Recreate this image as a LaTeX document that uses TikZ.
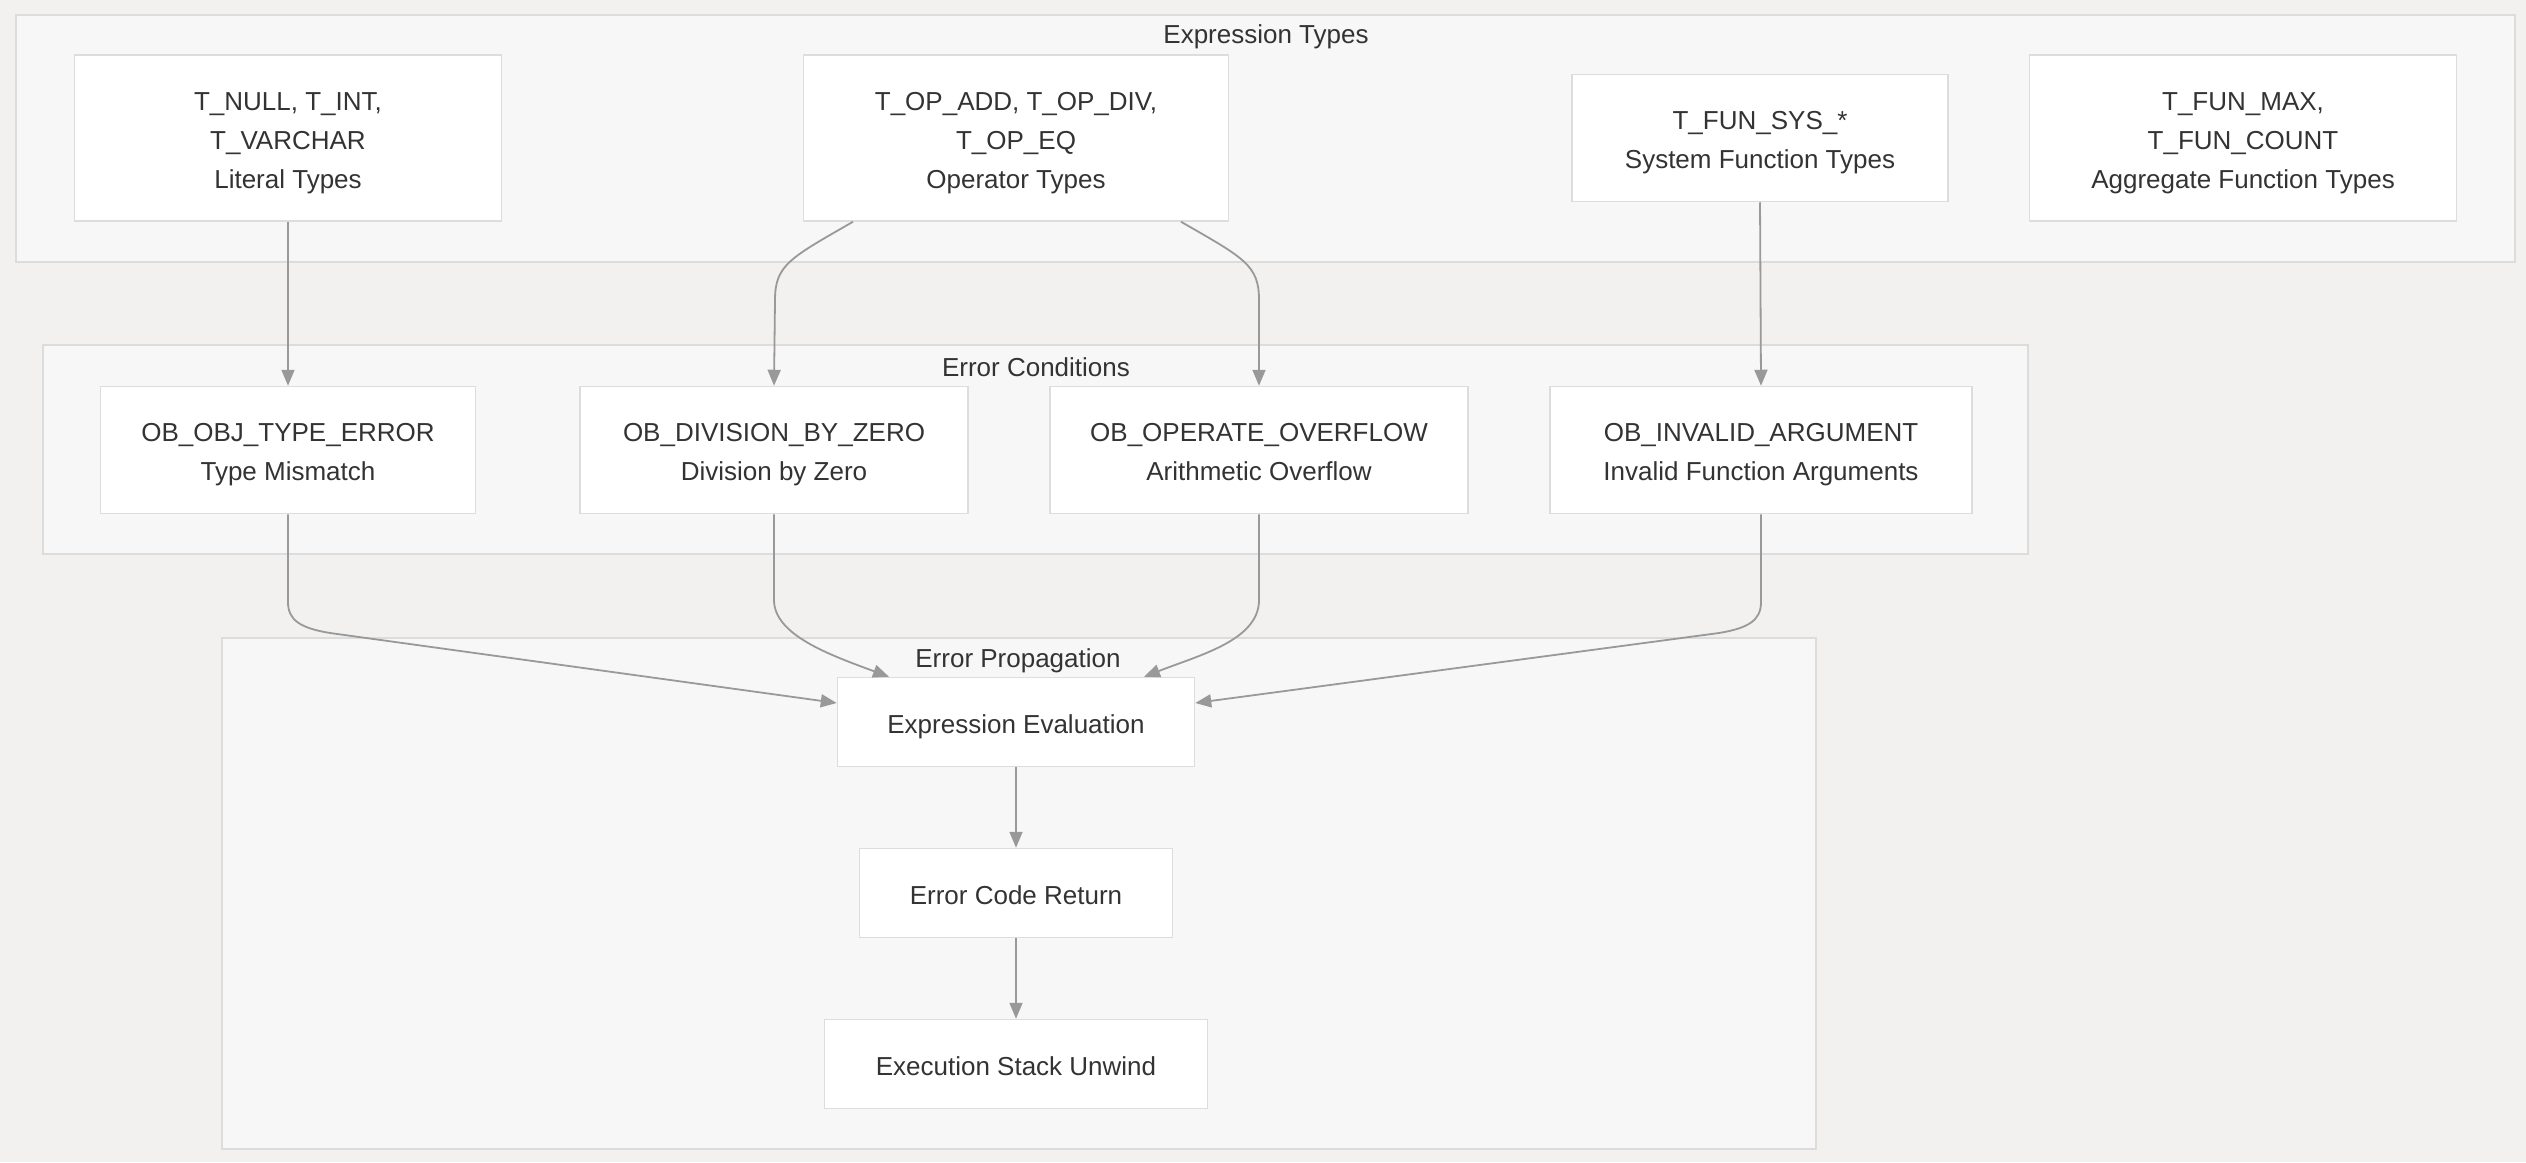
\documentclass[tikz,border=0pt]{standalone}
\usepackage{fontspec}
\setmainfont{Liberation Sans}
\usetikzlibrary{arrows.meta}
\definecolor{bgc}{HTML}{F2F1F0}
\definecolor{grpfill}{HTML}{F7F7F7}
\definecolor{grpline}{HTML}{DCDCDC}
\definecolor{boxline}{HTML}{DDDDDD}
\definecolor{txt}{HTML}{333333}
\definecolor{edgec}{HTML}{999999}
\newcommand\mlt[1]{\begin{tabular}{@{}c@{}}\rule{0pt}{34pt}#1\end{tabular}}
\tikzset{
  grp/.style={draw=grpline, fill=grpfill, line width=1.5pt},
  grptitle/.style={text=txt, font=\fontsize{26}{39}\selectfont, inner sep=0pt},
  box/.style={draw=boxline, fill=white, line width=1.5pt, text=txt, align=center,
    font=\fontsize{26}{39}\selectfont, inner sep=0pt,
    execute at begin node={\rule[-6pt]{0pt}{34.5pt}}},
  mbox/.style={box, execute at begin node={}},
  conn/.style={draw=edgec, line width=1.8pt, -{Triangle[length=16pt,width=13pt]}},
}
\begin{document}
\begin{tikzpicture}[x=1pt,y=-1pt]
\useasboundingbox (0,0) rectangle (2526,1162);
\fill[bgc] (0,0) rectangle (2526,1162);
% groups
\draw[grp] (16,15) rectangle (2515,262);
\node[grptitle] (t1) at (1266,37) {Expression Types};
\draw[grp] (43,345) rectangle (2028,554);
\node[grptitle] (t2) at (1036,367) {Error Conditions};
\draw[grp] (222,638) rectangle (1816,1149);
\node[grptitle] (t3) at (1018,661) {Error Propagation};
% top row
\node[mbox, minimum width=427pt, minimum height=166pt] (lit) at (288,138) {\mlt{T\_NULL, T\_INT,\\T\_VARCHAR\\Literal Types}};
\node[mbox, minimum width=425pt, minimum height=166pt] (op) at (1016,138) {\mlt{T\_OP\_ADD, T\_OP\_DIV,\\T\_OP\_EQ\\Operator Types}};
\node[mbox, minimum width=376pt, minimum height=127pt] (sys) at (1760,138) {\mlt{T\_FUN\_SYS\_*\\System Function Types}};
\node[mbox, minimum width=427pt, minimum height=166pt] (agg) at (2243,138) {\mlt{T\_FUN\_MAX,\\T\_FUN\_COUNT\\Aggregate Function Types}};
% error conditions
\node[mbox, minimum width=375pt, minimum height=127pt] (objerr) at (288,450) {\mlt{OB\_OBJ\_TYPE\_ERROR\\Type Mismatch}};
\node[mbox, minimum width=388pt, minimum height=127pt] (div) at (774,450) {\mlt{OB\_DIVISION\_BY\_ZERO\\Division by Zero}};
\node[mbox, minimum width=418pt, minimum height=127pt] (ovf) at (1259,450) {\mlt{OB\_OPERATE\_OVERFLOW\\Arithmetic Overflow}};
\node[mbox, minimum width=422pt, minimum height=127pt] (inv) at (1761,450) {\mlt{OB\_INVALID\_ARGUMENT\\Invalid Function Arguments}};
% propagation
\node[box, minimum width=357pt, minimum height=89pt] (eval) at (1016,722) {Expression Evaluation};
\node[box, minimum width=313pt, minimum height=89pt] (ecr) at (1016,893) {Error Code Return};
\node[box, minimum width=383pt, minimum height=89pt] (unw) at (1016,1064) {Execution Stack Unwind};
% edges
\draw[conn] (lit.south) -- (objerr.north);
\draw[conn] ([xshift=-163pt]op.south) .. controls (790,258) and (775,265) .. (775,300) -- (div.north);
\draw[conn] ([xshift=165pt]op.south) .. controls (1244,258) and (1259,265) .. (1259,300) -- (ovf.north);
\draw[conn] (sys.south) -- (inv.north);
\draw[conn] (objerr.south) -- (288,602) .. controls (288,620) and (300,628) .. (330,633) -- ([yshift=19pt]eval.west);
\draw[conn] (div.south) -- (774,600) .. controls (774,635) and (830,655) .. ([xshift=-127pt]eval.north);
\draw[conn] (ovf.south) -- (1259,600) .. controls (1259,640) and (1200,655) .. ([xshift=128pt]eval.north);
\draw[conn] (inv.south) -- (1761,602) .. controls (1761,620) and (1749,628) .. (1719,633) -- ([yshift=19pt]eval.east);
\draw[conn] (eval.south) -- (ecr.north);
\draw[conn] (ecr.south) -- (unw.north);
\end{tikzpicture}
\end{document}
